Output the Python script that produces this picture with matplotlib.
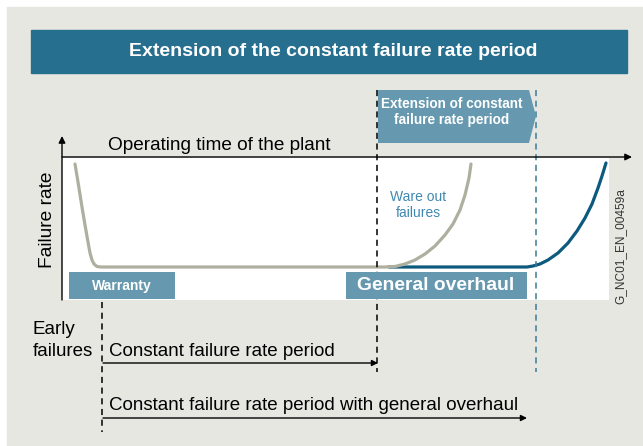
import matplotlib
matplotlib.use("Agg")
import matplotlib.pyplot as plt
from matplotlib.patches import Rectangle, Polygon

plt.rcParams["font.family"] = ["Liberation Sans", "DejaVu Sans"]

W, H = 643, 446

# curves in plot units (time from y-axis, failure rate above box bottom)
gray_time = [13, 16, 20, 23, 26, 28, 30, 32, 35, 39, 48,
             323, 333, 343, 353, 363, 373, 383, 391, 398, 403, 407, 409]
gray_rate = [136, 118, 93, 75, 58, 47, 40, 36, 33.5, 33, 33,
             33, 33.5, 36, 40, 46, 54, 65, 76, 90, 105, 122, 136]
blue_time = [327, 465, 471, 478, 486, 496, 506, 515, 523, 530, 536, 540, 544]
blue_rate = [33, 33, 34, 36, 40, 47, 57, 69, 82, 96, 112, 124, 137]

title = "Extension of the constant failure rate period"
ext_label = "Extension of constant\nfailure rate period"
x_label = "Operating time of the plant"
y_label = "Failure rate"
wear_label = "Ware out\nfailures"
period_labels = ["Constant failure rate period",
                 "Constant failure rate period with general overhaul"]
code_label = "G_NC01_EN_00459a"

BG = "#e7e7e2"
BAR = "#276f8e"
BOX = "#6699b0"
GRAY = "#afaf9f"
BLUE = "#0c5a7e"
DASH_BLUE = "#3d7a99"


def main():
    fig = plt.figure(figsize=(W / 100, H / 100), dpi=100)
    fig.patch.set_facecolor("white")

    # background / overlay axes in pixel coordinates
    bg = fig.add_axes([0, 0, 1, 1], zorder=0)
    bg.set_xlim(0, W)
    bg.set_ylim(H, 0)
    bg.axis("off")
    bg.add_patch(Rectangle((7, 7), W - 7, H - 7, color=BG))
    bg.add_patch(Rectangle((31, 30), 596, 43, color=BAR))
    bg.text(333, 51, title, color="white", fontsize=14, fontweight="bold",
            ha="center", va="center")

    # inner plot area
    left, right, top, bottom = 62, 609, 158, 300
    ax = fig.add_axes([left / W, 1 - bottom / H, (right - left) / W, (bottom - top) / H], zorder=1)
    ax.set_facecolor("white")
    ax.set_xlim(0, right - left)
    ax.set_ylim(0, bottom - top)
    for s in ax.spines.values():
        s.set_visible(False)
    ax.set_xticks([])
    ax.set_yticks([])
    ax.plot(blue_time, blue_rate, color=BLUE, lw=2.3, solid_capstyle="round", zorder=2)
    ax.plot(gray_time, gray_rate, color=GRAY, lw=2.3, solid_capstyle="round", zorder=3)

    ov = fig.add_axes([0, 0, 1, 1], zorder=2)
    ov.set_xlim(0, W)
    ov.set_ylim(H, 0)
    ov.axis("off")
    ov.patch.set_alpha(0)

    # axes arrows
    arrow = dict(arrowstyle="-|>", color="black", lw=1, mutation_scale=10, shrinkA=0, shrinkB=0)
    ov.annotate("", xy=(62, 136), xytext=(62, 300), arrowprops=arrow)
    ov.annotate("", xy=(632, 157), xytext=(62, 157), arrowprops=arrow)
    ov.text(108, 146, x_label, fontsize=13.7, ha="left", va="center")
    ov.text(47, 220, y_label, fontsize=13.8, rotation=90, ha="center", va="center")

    # dashed markers (under the boxes)
    ov.plot([377, 377], [90, 372], color="black", lw=1.1, dashes=(4, 3), zorder=1)
    ov.plot([536, 536], [90, 372], color=DASH_BLUE, lw=1.1, dashes=(4, 3), zorder=1)
    ov.plot([102, 102], [302, 432], color="black", lw=1.1, dashes=(4, 3), zorder=1)

    # extension arrow box
    ov.add_patch(Polygon([(378, 90), (529, 90), (536, 116), (529, 143), (378, 143)],
                         closed=True, color=BOX, lw=0, zorder=2))
    ov.text(452, 112, ext_label, color="white", fontsize=9.8, fontweight="bold",
            ha="center", va="center", linespacing=1.1, zorder=3)

    ov.text(418, 205, wear_label, color="#3f88b0", fontsize=10, ha="center",
            va="center", linespacing=1.2)

    # boxes
    ov.add_patch(Rectangle((69, 272), 106, 27, color=BOX, lw=0, zorder=2))
    ov.text(122, 286, "Warranty", color="white", fontsize=10, fontweight="bold",
            ha="center", va="center", zorder=3)
    ov.add_patch(Rectangle((346, 272), 181, 27, color=BOX, lw=0, zorder=2))
    ov.text(436, 285, "General overhaul", color="white", fontsize=13.9, fontweight="bold",
            ha="center", va="center", zorder=3)

    ov.text(620, 246, code_label, fontsize=8.6, rotation=90, ha="center", va="center",
            color="#333333")

    # bottom annotations
    ov.text(33, 330, "Early", fontsize=13.5, ha="left", va="center")
    ov.text(33, 352, "failures", fontsize=13.5, ha="left", va="center")
    small = dict(arrowstyle="-|>", color="black", lw=1, mutation_scale=9, shrinkA=0, shrinkB=0)
    ov.text(109, 352, period_labels[0], fontsize=13.5, ha="left", va="center")
    ov.annotate("", xy=(378, 363), xytext=(103, 363), arrowprops=small)
    ov.text(109, 405, period_labels[1], fontsize=13.5, ha="left", va="center")
    ov.annotate("", xy=(527, 418), xytext=(103, 418), arrowprops=small)

    fig.savefig("out.png", dpi=100)


if __name__ == "__main__":
    main()
